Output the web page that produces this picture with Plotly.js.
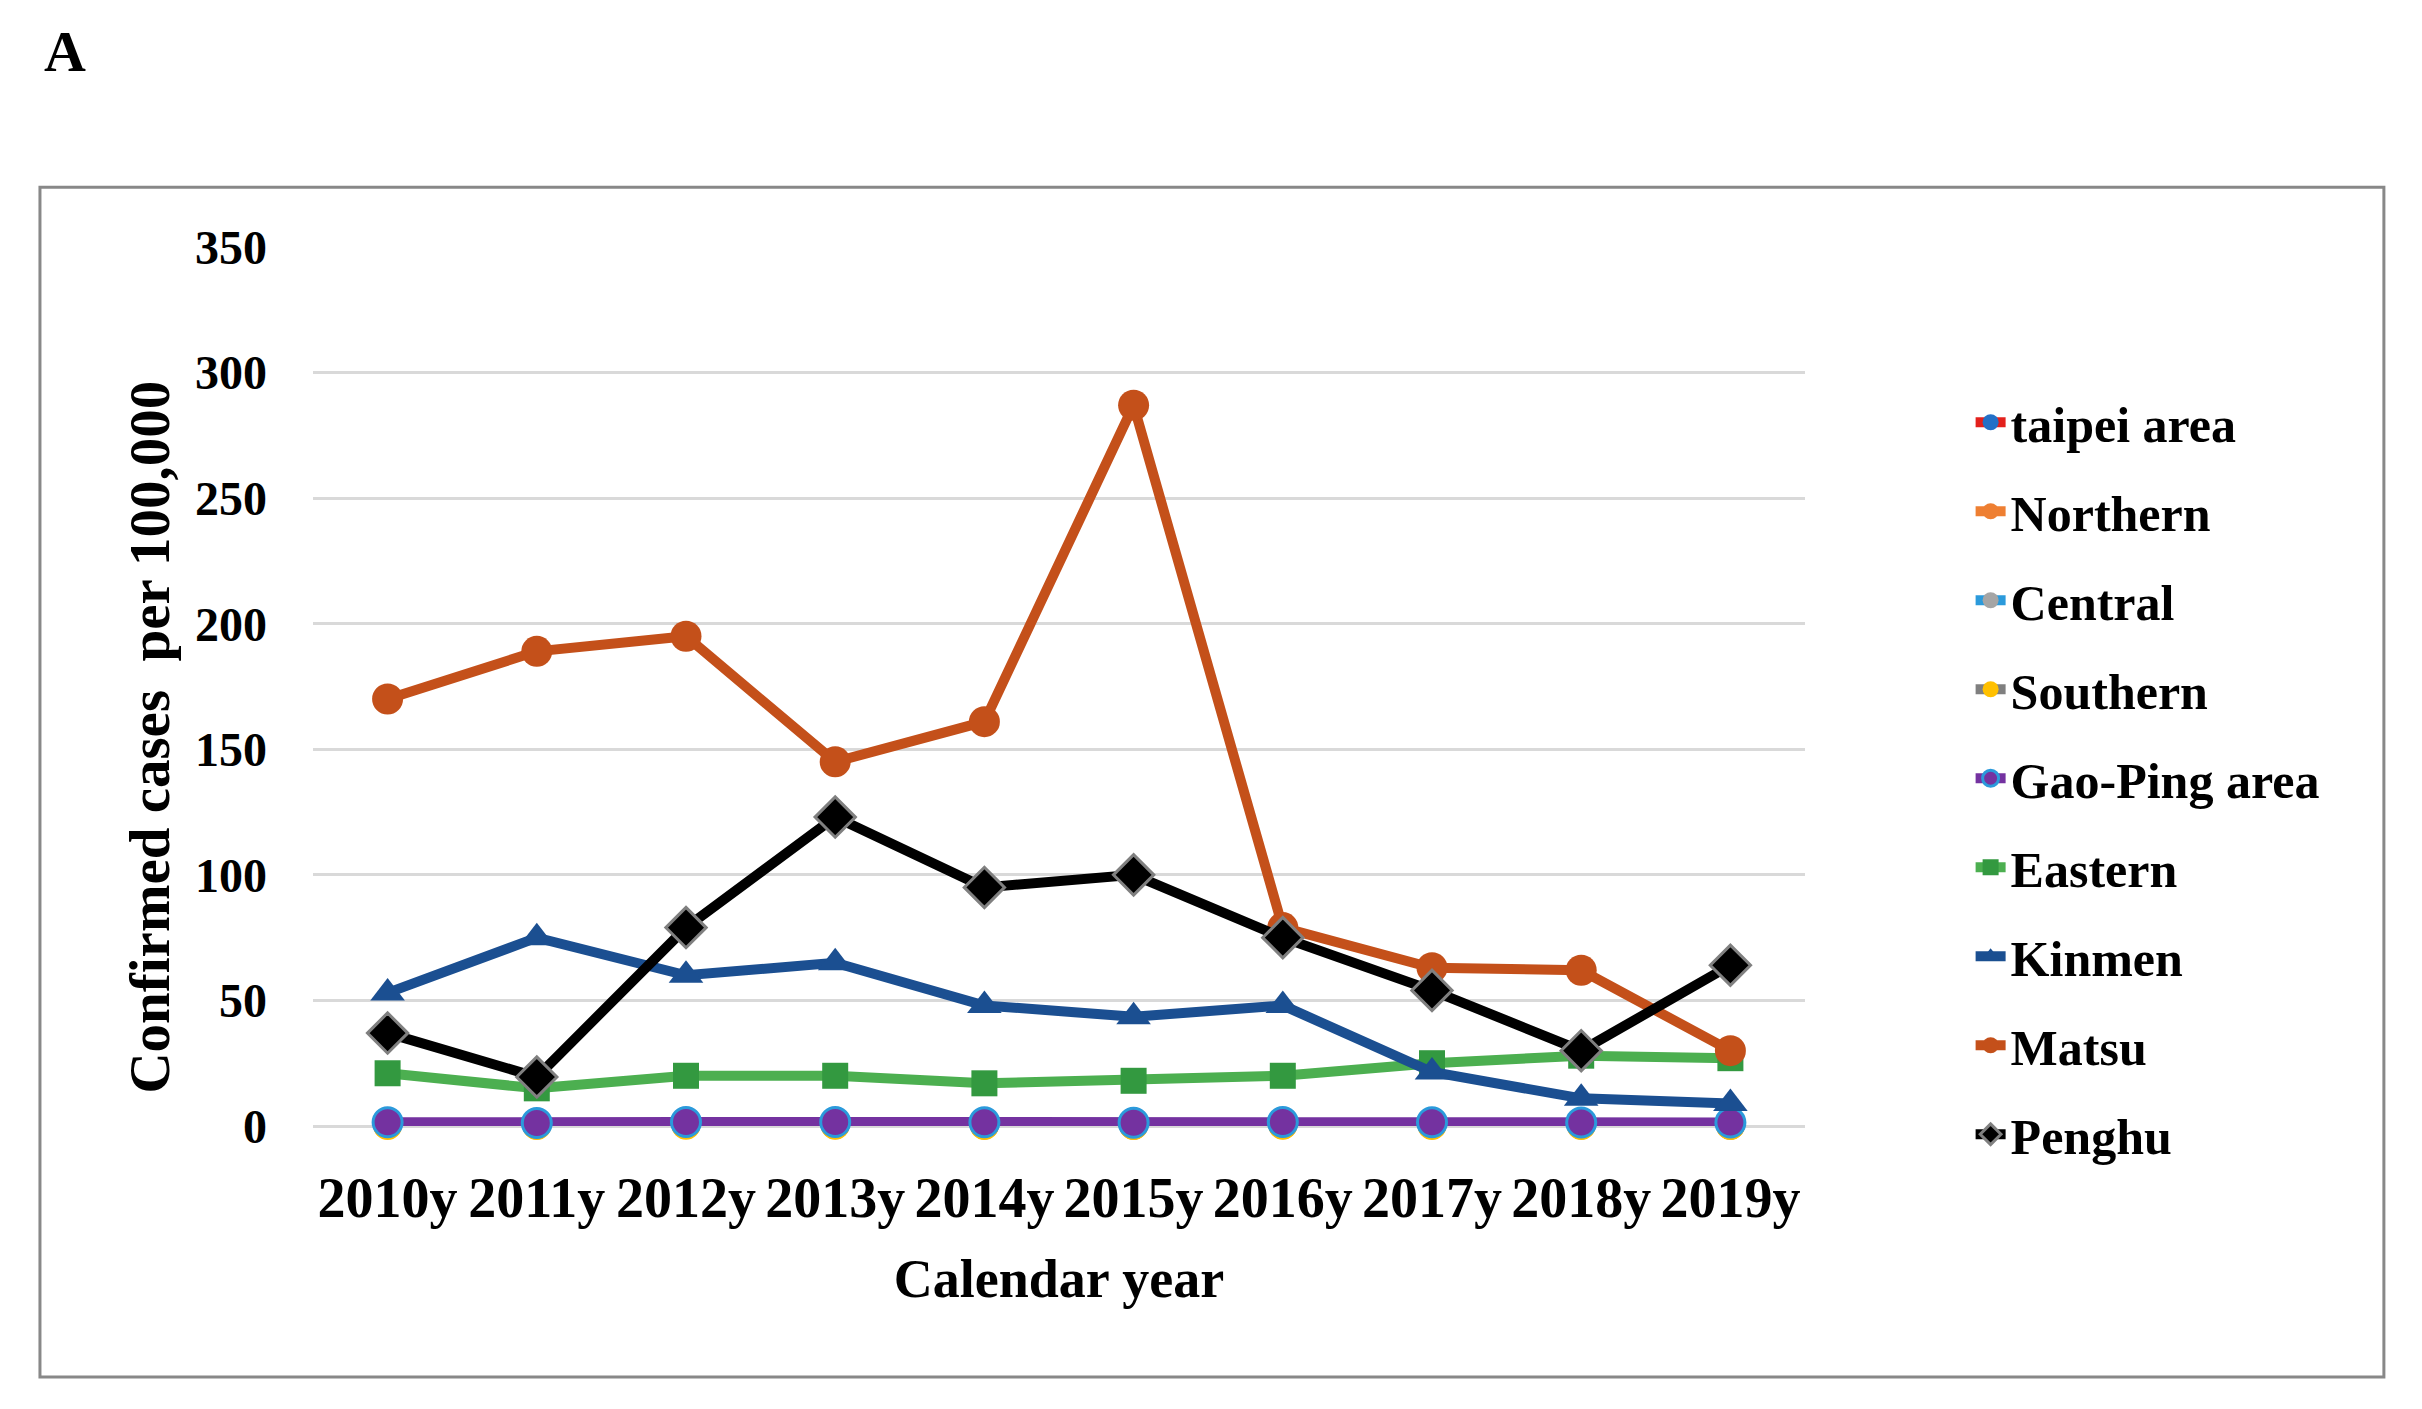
<!DOCTYPE html>
<html>
<head>
<meta charset="utf-8">
<script src="https://cdn.plot.ly/plotly-3.0.1.min.js"></script>
<style>html,body{margin:0;padding:0;background:#fff}#chart{width:2422px;height:1409px}</style>
</head>
<body>
<div id="chart"></div>
<script>
var years = ["2010y","2011y","2012y","2013y","2014y","2015y","2016y","2017y","2018y","2019y"];
var taipei   = [0.8,0.6,0.9,0.7,0.6,0.5,0.8,0.7,0.6,0.5];
var northern = [0.5,0.4,0.6,0.5,0.4,0.3,0.5,0.5,0.4,0.3];
var central  = [0.6,0.5,0.7,0.6,0.5,0.4,0.6,0.6,0.5,0.4];
var southern = [0.2,0.2,0.3,0.3,0.2,0.2,0.3,0.2,0.2,0.2];
var gaoping  = [1.5,1.2,1.6,1.6,1.5,1.3,1.6,1.5,1.4,1.4];
var eastern  = [21,15,20,20,17,18,20,25,28,27];
var kinmen   = [53,75,60,65,48,43.5,48,21.5,11,9];
var matsu    = [170,189,195,145,161,287,79,63,62,30];
var penghu   = [37,19.5,79,123,95,100,75,54,30,64];
var yTicks   = [0,50,100,150,200,250,300,350];

var FONT = "Liberation Serif, 'Times New Roman', serif";

function tr(name, y, lineColor, mColor, symbol, mLine, mSize, group){
  return {
    x: years, y: y, name: name, type: 'scatter', mode: 'lines+markers',
    legendgroup: group,
    line: {color: lineColor, width: 10},
    marker: {color: mColor, symbol: symbol, size: mSize,
             line: {color: mLine || mColor, width: mLine ? 3 : 0}},
    cliponaxis: false
  };
}

var data = [
  tr('taipei area', taipei, '#E3211C', '#2370C7', 'circle', null, 29, 'g1'),
  tr('Northern', northern, '#EE7F32', '#EE7F32', 'circle', null, 29, 'g2'),
  tr('Central', central, '#2B9ADB', '#A5A5A5', 'circle', null, 29, 'g3'),
  tr('Southern', southern, '#7F7F7F', '#FFC000', 'circle', null, 29, 'g4'),
  tr('Gao-Ping area', gaoping, '#7432A0', '#7432A0', 'circle', '#2B9ADB', 29, 'g5'),
  tr('Eastern', eastern, '#4CAF50', '#339940', 'square', null, 26, 'g6'),
  tr('Kinmen', kinmen, '#1B4F91', '#1B4F91', 'triangle-up', null, 30, 'g7'),
  tr('Matsu', matsu, '#C4501A', '#C4501A', 'circle', null, 31, 'g8'),
  tr('Penghu', penghu, '#000000', '#000000', 'diamond', '#808080', 31, 'g9')
];

var layout = {
  width: 2422, height: 1409,
  paper_bgcolor: '#fff', plot_bgcolor: '#fff',
  font: {family: FONT, color: '#000', size: 50, weight: 'bold'},
  margin: {l: 313, r: 617, t: 247, b: 283},
  showlegend: true,
  legend: {
    x: 1.111, xanchor: 'left', y: 0.845, yanchor: 'top',
    font: {family: FONT, size: 50, color: '#000', weight: 'bold'},
    traceorder: 'grouped', tracegroupgap: 21,
    bgcolor: 'rgba(0,0,0,0)', itemwidth: 30
  },
  xaxis: {
    type: 'category', range: [-0.5, 9.5],
    showgrid: false, zeroline: false, showline: false, ticks: '',
    tickfont: {family: FONT, size: 56, color: '#000', weight: 'bold'},
    ticklabelstandoff: 34,
    title: {text: 'Calendar year', font: {family: FONT, size: 54, color: '#000', weight: 'bold'}, standoff: 31}
  },
  yaxis: {
    range: [0, 350], tickvals: yTicks, ticktext: yTicks.map(String),
    showgrid: true, gridcolor: '#D9D9D9', gridwidth: 3,
    zeroline: true, zerolinecolor: '#D9D9D9', zerolinewidth: 3,
    showline: false, ticks: '',
    tickfont: {family: FONT, size: 48, color: '#000', weight: 'bold'},
    ticklabelstandoff: 45,
    title: {text: ''}
  },
  shapes: [{
    type: 'rect', xref: 'paper', yref: 'paper',
    x0: -0.1830, x1: 1.388, y0: -0.2855, y1: 1.068,
    line: {color: '#888888', width: 3}, fillcolor: 'rgba(0,0,0,0)', layer: 'below'
  }],
  annotations: [{
    text: 'A', xref: 'paper', yref: 'paper', x: -0.1816, y: 1.222,
    xanchor: 'left', yanchor: 'middle', showarrow: false,
    font: {family: FONT, size: 58, color: '#000', weight: 'bold'}
  }, {
    text: 'Confirmed cases  per 100,000', xref: 'paper', yref: 'paper',
    x: -0.1095, y: 0.4426, xanchor: 'center', yanchor: 'middle',
    textangle: -90, showarrow: false,
    font: {family: FONT, size: 57, color: '#000', weight: 'bold'}
  }]
};

Plotly.newPlot('chart', data, layout, {displayModeBar: false, staticPlot: true});
</script>
</body>
</html>
